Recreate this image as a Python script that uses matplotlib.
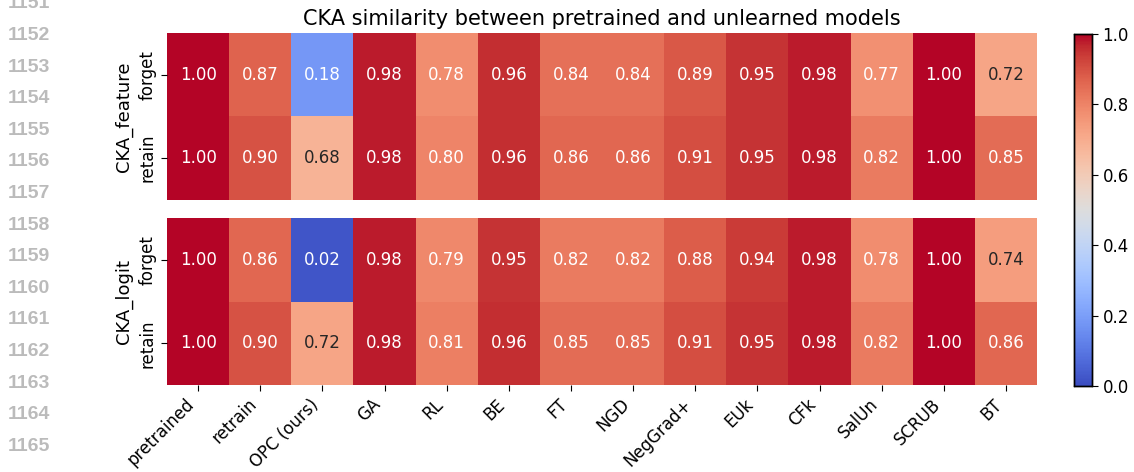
import matplotlib
matplotlib.use("Agg")
import matplotlib.pyplot as plt
import numpy as np
import seaborn as sns

methods = ["pretrained", "retrain", "OPC (ours)", "GA", "RL", "BE", "FT", "NGD",
           "NegGrad+", "EUk", "CFk", "SalUn", "SCRUB", "BT"]
row_labels = ["forget", "retain"]

feature_forget = [1.00, 0.87, 0.18, 0.98, 0.78, 0.96, 0.84, 0.84, 0.89, 0.95, 0.98, 0.77, 1.00, 0.72]
feature_retain = [1.00, 0.90, 0.68, 0.98, 0.80, 0.96, 0.86, 0.86, 0.91, 0.95, 0.98, 0.82, 1.00, 0.85]
logit_forget = [1.00, 0.86, 0.02, 0.98, 0.79, 0.95, 0.82, 0.82, 0.88, 0.94, 0.98, 0.78, 1.00, 0.74]
logit_retain = [1.00, 0.90, 0.72, 0.98, 0.81, 0.96, 0.85, 0.85, 0.91, 0.95, 0.98, 0.82, 1.00, 0.86]

line_numbers = list(range(1151, 1166))

W, H = 1134, 472
fig = plt.figure(figsize=(W / 100, H / 100), dpi=100)

ax1 = fig.add_axes([167 / W, 1 - 200 / H, 870 / W, 167 / H])
ax2 = fig.add_axes([167 / W, 1 - 385 / H, 870 / W, 167 / H])
cax = fig.add_axes([1074 / W, 1 - 386 / H, 18 / W, 352 / H])

fs = 12
panels = [(ax1, np.array([feature_forget, feature_retain]), "CKA_feature"),
          (ax2, np.array([logit_forget, logit_retain]), "CKA_logit")]
for i, (ax, data, name) in enumerate(panels):
    sns.heatmap(data, ax=ax, cmap="coolwarm", vmin=0, vmax=1, annot=True, fmt=".2f",
                annot_kws={"fontsize": fs}, cbar=(i == 0), cbar_ax=cax if i == 0 else None,
                xticklabels=methods if i == 1 else False, yticklabels=row_labels)
    ax.set_ylabel(name, fontsize=13, labelpad=4)
    ax.set_yticklabels(row_labels, rotation=90, va="center", fontsize=fs)
    ax.tick_params(axis="both", length=4)
    if i == 1:
        ax.set_xticklabels(methods, rotation=45, ha="right", fontsize=fs)
    else:
        ax.tick_params(axis="x", bottom=False)

ax1.set_title("CKA similarity between pretrained and unlearned models", fontsize=15, pad=6)

cax.tick_params(labelsize=fs, length=4)
cax.set_yticks([0, 0.2, 0.4, 0.6, 0.8, 1.0])
for s in cax.spines.values():
    s.set_visible(True)
    s.set_linewidth(1.0)

for k, n in enumerate(line_numbers):
    fig.text(8 / W, 1 - (4 + 31.6 * k) / H, str(n), fontsize=14, fontweight="bold",
             color="#bbbbbb", va="center", ha="left", family="Liberation Sans")

fig.savefig("out.png", dpi=100)
